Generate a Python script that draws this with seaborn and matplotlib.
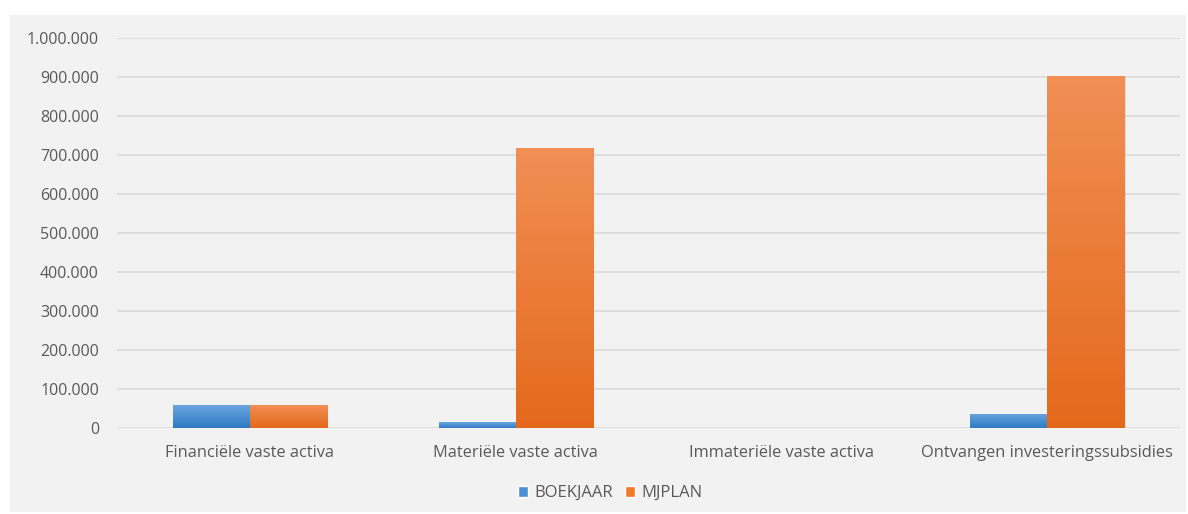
import pandas as pd
import numpy as np
import matplotlib
matplotlib.use("Agg")
import matplotlib.pyplot as plt
import seaborn as sns
from matplotlib.patches import Rectangle
from matplotlib.ticker import FuncFormatter, MultipleLocator

categories = ["Financiële vaste activa", "Materiële vaste activa",
              "Immateriële vaste activa", "Ontvangen investeringssubsidies"]
boekjaar = [58000, 15000, 0, 37000]
mjplan = [58000, 718000, 0, 902000]
series = ["BOEKJAAR", "MJPLAN"]

df = pd.DataFrame({
    "Categorie": categories * 2,
    "Reeks": [series[0]] * 4 + [series[1]] * 4,
    "Bedrag": boekjaar + mjplan,
})

sns.set_style("white")
plt.rcParams['font.family'] = ['Open Sans', 'DejaVu Sans']

bg = "#f2f2f2"
fig = plt.figure(figsize=(11.88, 5.14), dpi=100, facecolor="white")
fig.patches.append(Rectangle((10 / 1188, 2 / 514), 1176 / 1188, 497 / 514,
                             transform=fig.transFigure, facecolor=bg,
                             edgecolor="none", zorder=-5))
ax = fig.add_axes([117 / 1188, 86 / 514, 1063 / 1188, 390 / 514])
ax.set_facecolor(bg)

colors = {"BOEKJAAR": "#4a8fd4", "MJPLAN": "#ef7a2c"}
sns.barplot(data=df, x="Categorie", y="Bedrag", hue="Reeks",
            palette=colors, width=0.58, gap=0, ax=ax, zorder=3,
            edgecolor="none", legend=False)

# gradient fill like the Excel bars
grads = {"BOEKJAAR": ("#6aa6de", "#2f7ac4"), "MJPLAN": ("#f18f55", "#e4691b")}
for cont, name in zip(ax.containers, series):
    top_c, bot_c = grads[name]
    cmap = matplotlib.colors.LinearSegmentedColormap.from_list(name, [bot_c, top_c])
    for bar in cont:
        x0, w, h = bar.get_x(), bar.get_width(), bar.get_height()
        if h <= 0:
            continue
        # soft shadow
        ax.add_patch(Rectangle((x0 + 0.005, -3000), w, h, facecolor="#000000",
                               alpha=0.08, edgecolor="none", zorder=2.5))
        grad = np.linspace(0, 1, 256).reshape(-1, 1)
        im = ax.imshow(grad, cmap=cmap, aspect="auto", origin="lower",
                       extent=[x0, x0 + w, 0, h], zorder=3.5)
        im.set_clip_path(bar)

ax.set_xlim(-0.5, 3.5)
ax.set_ylim(0, 1000000)
ax.yaxis.set_major_locator(MultipleLocator(100000))
ax.yaxis.set_major_formatter(FuncFormatter(lambda v, p: f"{int(v):,}".replace(",", ".")))
ax.grid(axis="y", color="#d9d9d9", linewidth=1.2, zorder=0)
ax.set_axisbelow(True)
for s in ax.spines.values():
    s.set_visible(False)
ax.tick_params(axis="y", length=0, pad=13, labelsize=11.5, labelcolor="#595959")
ax.tick_params(axis="x", length=0, pad=12, labelsize=11.8, labelcolor="#595959")
ax.set_xlabel("")
ax.set_ylabel("")

handles = [Rectangle((0, 0), 1, 1, facecolor=colors[s]) for s in series]
fig.legend(handles, series, loc="center", bbox_to_anchor=(610 / 1188, 21 / 514),
           ncol=2, frameon=False, fontsize=12, handlelength=0.65,
           handleheight=0.65, handletextpad=0.35, columnspacing=0.7,
           labelcolor="#595959")

fig.savefig("out.png", dpi=100, facecolor="white")
